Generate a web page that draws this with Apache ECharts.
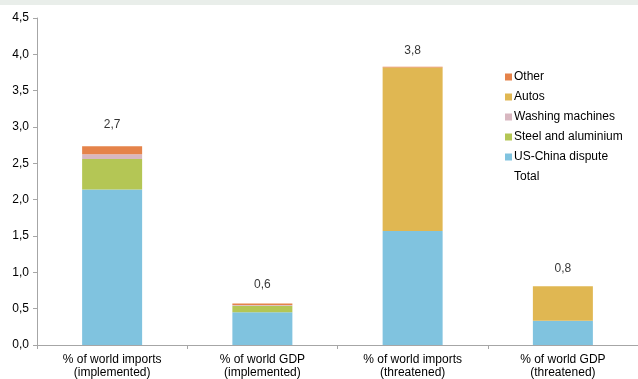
<!DOCTYPE html>
<html><head><meta charset="utf-8">
<script src="https://cdn.jsdelivr.net/npm/echarts@6/dist/echarts.min.js"></script>
<style>html,body{margin:0;padding:0;background:#fff}#c{width:638px;height:379px}</style>
</head><body><div id="c"></div>
<script>
const categories = ['% of world imports\n(implemented)', '% of world GDP\n(implemented)', '% of world imports\n(threatened)', '% of world GDP\n(threatened)'];
const usChina = [2.14, 0.45, 1.57, 0.335];
const steel = [0.42, 0.09, 0, 0];
const washing = [0.065, 0.01, 0, 0];
const autos = [0, 0, 2.25, 0.475];
const other = [0.11, 0.02, 0.01, 0];
const totals = [2.73, 0.58, 3.83, 0.81];
const yTicks = [0, 4.5, 0.5];

const fmt = v => v.toFixed(1).replace('.', ',');
const font = 'Liberation Sans, Arial, sans-serif';
const labelGap = [15, 12, 9, 11];
const chart = echarts.init(document.getElementById('c'));
function bar(name, data, color) {
  return { name, type: 'bar', stack: 's', data, barWidth: 60, itemStyle: { color }, emphasis: { disabled: true } };
}
chart.setOption({
  animation: false,
  graphic: [{ type: 'rect', shape: { x: 0, y: 0, width: 638, height: 5 }, style: { fill: '#e9eeea' } }],
  grid: { left: 37, right: -3, top: 18, bottom: 31 },
  legend: {
    orient: 'vertical', left: 500, top: 66, itemWidth: 7, itemHeight: 7, itemGap: 8,
    textStyle: { fontFamily: font, fontSize: 12, color: '#000', padding: [0, 0, 0, -3] },
    data: [
      { name: 'Other', icon: 'rect' }, { name: 'Autos', icon: 'rect' }, { name: 'Washing machines', icon: 'rect' },
      { name: 'Steel and aluminium', icon: 'rect' }, { name: 'US-China dispute', icon: 'rect' },
      { name: 'Total', icon: 'rect', itemStyle: { opacity: 0 } }
    ]
  },
  xAxis: {
    type: 'category', data: categories,
    axisLine: { lineStyle: { color: '#a6a6a6' } },
    axisTick: { show: true, length: 4, lineStyle: { color: '#a6a6a6' } },
    axisLabel: { fontFamily: font, fontSize: 12, color: '#000', lineHeight: 13, margin: 8 }
  },
  yAxis: {
    type: 'value', min: yTicks[0], max: yTicks[1], interval: yTicks[2],
    splitLine: { show: false },
    axisLine: { show: true, lineStyle: { color: '#a6a6a6' } },
    axisTick: { show: true, length: 4, lineStyle: { color: '#a6a6a6' } },
    axisLabel: { fontFamily: font, fontSize: 12, color: '#000', margin: 8, formatter: v => fmt(v) }
  },
  series: [
    bar('US-China dispute', usChina, '#80c3df'),
    bar('Steel and aluminium', steel, '#b4c655'),
    bar('Washing machines', washing, '#d8b7c0'),
    bar('Autos', autos, '#e0b752'),
    bar('Other', other, '#e5834a'),
    {
      name: 'Total', type: 'scatter', symbolSize: 1, itemStyle: { color: 'rgba(0,0,0,0)' },
      data: totals.map((v, i) => ({ value: v, label: { distance: labelGap[i] } })),
      label: { show: true, position: 'top', fontFamily: font, fontSize: 12, color: '#000', formatter: p => fmt(p.value) },
      emphasis: { disabled: true }
    }
  ]
});
</script></body></html>
